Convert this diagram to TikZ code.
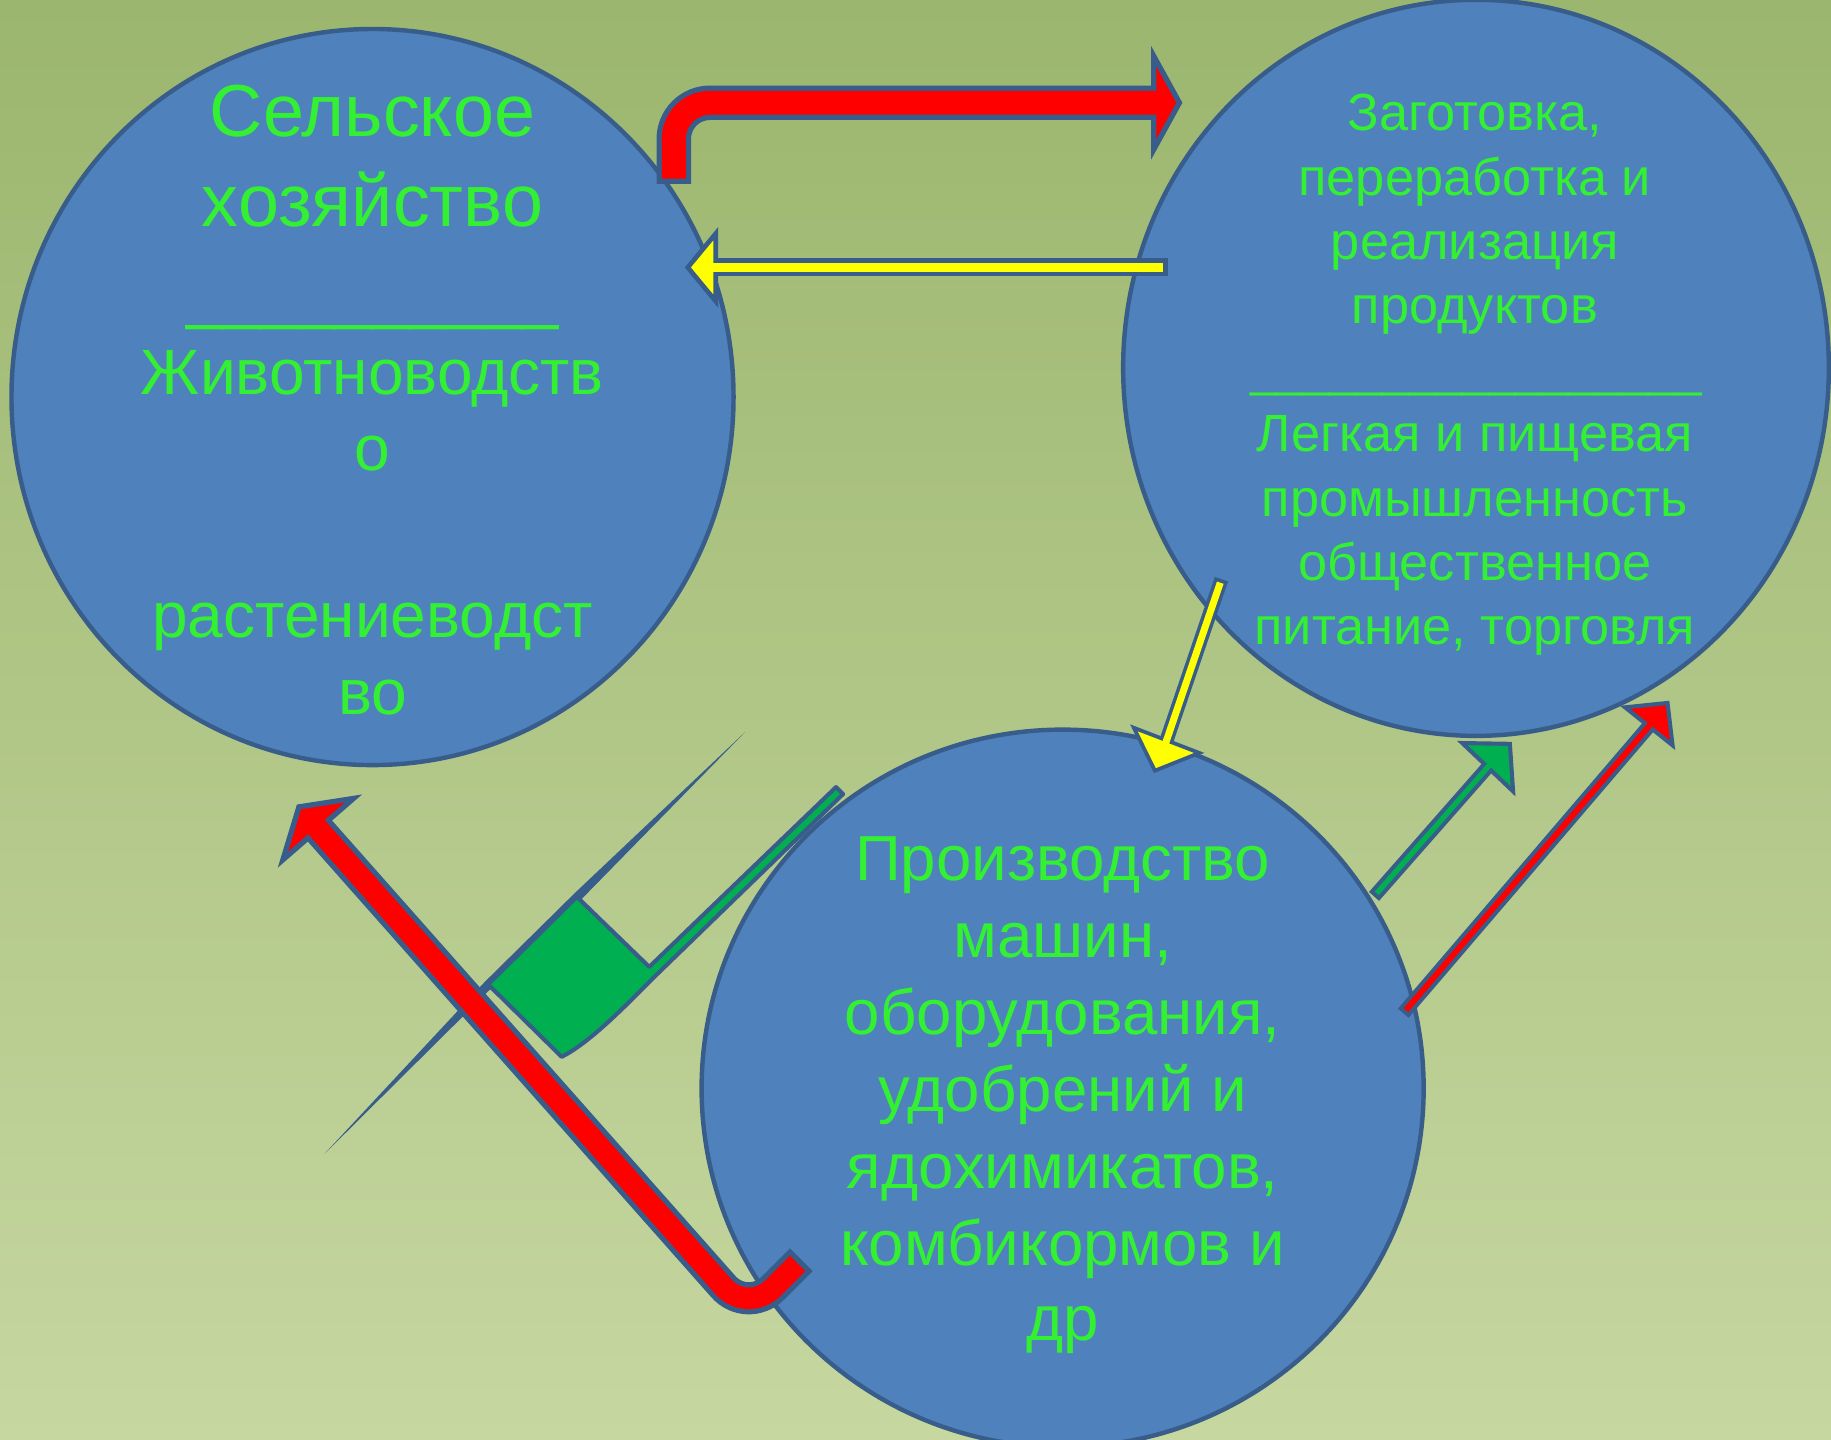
\documentclass[tikz,border=0pt]{standalone}
\usepackage{fontspec}
\setmainfont{Liberation Sans}
\usetikzlibrary{calc,shapes.geometric}
\definecolor{bgtop}{RGB}{155,182,110}
\definecolor{bgbot}{RGB}{198,215,160}
\definecolor{circfill}{RGB}{79,129,189}
\definecolor{circedge}{RGB}{56,93,138}
\definecolor{txt}{RGB}{51,240,51}
\definecolor{agreen}{RGB}{0,176,80}
\definecolor{ared}{RGB}{255,0,0}
\definecolor{ayellow}{RGB}{255,255,0}
\newcommand\szBig{\fontsize{17.95}{21}\selectfont}
\newcommand\szLeft{\fontsize{15.6}{18}\selectfont}
\newcommand\szLeftU{\fontsize{16.3}{19}\selectfont}
\newcommand\szRight{\fontsize{12.75}{15}\selectfont}
\newcommand\szRightU{\fontsize{11.64}{14}\selectfont}
\newcommand\szBottom{\fontsize{15.5}{18}\selectfont}
% straight block arrow: tail, head back, tip, outer shaft width, inner shaft width, head half width, fill, border
\newcommand\strarrow[8]{%
  \draw[bord, line width=#4] ($(#1)!-#8!(#2)$) -- (#2);
  \filldraw[bord, fill=#7, line width=#8, line join=miter] ($(#2)!#6!90:(#3)$) -- (#3) -- ($(#2)!#6!-90:(#3)$) -- cycle;
  \draw[draw=#7, line width=#5] (#1) -- ($(#2)!-0.06cm!(#1)$);
}
\tikzset{
  circ/.style={ellipse, draw=circedge, fill=circfill, line width=0.038cm, inner sep=0pt},
  lbl/.style={text=txt, anchor=base, inner sep=0pt, outer sep=0pt},
  bord/.style={draw=circedge},
}
\begin{document}
\begin{tikzpicture}[x=0.01cm, y=-0.01cm]
\useasboundingbox (0,0) rectangle (1568,1233);
\clip (0,0) rectangle (1568,1233);
\fill[top color=bgtop, bottom color=bgbot] (0,0) rectangle (1568,1233);

% circles
\node[circ, minimum width=6.18cm, minimum height=6.30cm] (agri) at (319,340) {};
\node[circ, minimum width=6.04cm, minimum height=6.30cm] (proc) at (1264,315) {};
\node[circ, minimum width=6.18cm, minimum height=6.14cm] (prod) at (910,932) {};

% left texts
\node[lbl, font=\szBig] (a1) at (319,117) {Сельское};
\node[lbl, font=\szBig] (a2) at (319,194) {хозяйство};
\node[lbl, font=\szLeftU] (a3) at (319,271) {\_\_\_\_\_\_\_\_\_\_};
\node[lbl, font=\szLeft] (a4) at (319,338) {Животноводств};
\node[lbl, font=\szLeft] (a5) at (319,403) {о};
\node[lbl, font=\szLeft] (a6) at (319,546) {растениеводст};
\node[lbl, font=\szLeft] (a7) at (319,611.5) {во};

% right texts
\node[lbl, font=\szRight] (b1) at (1263,112) {Заготовка,};
\node[lbl, font=\szRight] (b2) at (1263,167) {переработка и};
\node[lbl, font=\szRight] (b3) at (1263,222) {реализация};
\node[lbl, font=\szRight] (b4) at (1263,277) {продуктов};
\node[lbl, font=\szRightU] (b5) at (1264,331) {\_\_\_\_\_\_\_\_\_\_\_\_\_\_\_\_\_};
\node[lbl, font=\szRight] (b6) at (1263,387) {Легкая и пищевая};
\node[lbl, font=\szRight] (b7) at (1263,442) {промышленность};
\node[lbl, font=\szRight] (b8) at (1263,497) {общественное};
\node[lbl, font=\szRight] (b9) at (1263,552) {питание, торговля};

% bottom texts
\node[lbl, font=\szBottom] (c1) at (910,754) {Производство};
\node[lbl, font=\szBottom] (c2) at (910,820) {машин,};
\node[lbl, font=\szBottom] (c3) at (910,886) {оборудования,};
\node[lbl, font=\szBottom] (c4) at (910,952) {удобрений и};
\node[lbl, font=\szBottom] (c5) at (910,1018) {ядохимикатов,};
\node[lbl, font=\szBottom] (c6) at (910,1084) {комбикормов и};
\node[lbl, font=\szBottom] (c7) at (910,1148) {др};

% odd green shape
\fill[circedge] (278,988) -- (415,841) -- (492,765) -- (638,627) -- (497,771) -- (421,846) -- cycle;
\filldraw[draw=circedge, fill=agreen, line width=0.035cm, line join=round]
  (418,843) -- (494,768) -- (556,828) -- (716,674) -- (722,680) -- (562,835)
  .. controls (535,862) and (505,893) .. (481,905) -- cycle;

% yellow horizontal arrow
\coordinate (y1t) at (996,229);
\coordinate (y1b) at (613,229);
\coordinate (y1p) at (589,229);
\strarrow{y1t}{y1b}{y1p}{0.155cm}{0.075cm}{0.29cm}{ayellow}{0.04cm}

% top red bent arrow
\coordinate (r1t) at (577,153);
\coordinate (r1c) at (577,88);
\coordinate (r1b) at (988,88);
\coordinate (r1p) at (1010,88);
\draw[bord, line width=0.295cm, rounded corners=0.31cm] (577,157.5) -- (r1c) -- (r1b);
\filldraw[bord, fill=ared, line width=0.045cm, line join=miter] (988,48) -- (r1p) -- (988,128) -- cycle;
\draw[draw=ared, line width=0.205cm, rounded corners=0.31cm] (r1t) -- (r1c) -- (994,88);

% yellow diagonal arrow
\coordinate (y2t) at (1045,499);
\coordinate (y2b) at (999,634);
\coordinate (y2p) at (989,660);
\strarrow{y2t}{y2b}{y2p}{0.12cm}{0.06cm}{0.30cm}{ayellow}{0.032cm}

% green arrow
\coordinate (g1t) at (1179,765);
\coordinate (g1b) at (1274,657);
\coordinate (g1p) at (1293,637);
\strarrow{g1t}{g1b}{g1p}{0.115cm}{0.045cm}{0.30cm}{agreen}{0.035cm}

% red right arrow
\coordinate (r2t) at (1204,865);
\coordinate (r2b) at (1412,622);
\coordinate (r2p) at (1428,602);
\strarrow{r2t}{r2b}{r2p}{0.12cm}{0.05cm}{0.26cm}{ared}{0.035cm}

% big red bent arrow
\coordinate (r3t) at (683,1082);
\coordinate (r3c) at (640,1125);
\coordinate (r3b) at (272.5,710);
\coordinate (r3p) at (256,691);
\draw[bord, line width=0.275cm, rounded corners=0.31cm] ($(r3t)!-0.045cm!(r3c)$) -- (r3c) -- (r3b);
\filldraw[bord, fill=ared, line width=0.045cm, line join=miter] ($(r3b)!0.40cm!90:(r3p)$) -- (r3p) -- ($(r3b)!0.40cm!-90:(r3p)$) -- cycle;
\draw[draw=ared, line width=0.185cm, rounded corners=0.31cm] (r3t) -- (r3c) -- ($(r3b)!-0.06cm!(r3c)$);
\end{tikzpicture}
\end{document}
